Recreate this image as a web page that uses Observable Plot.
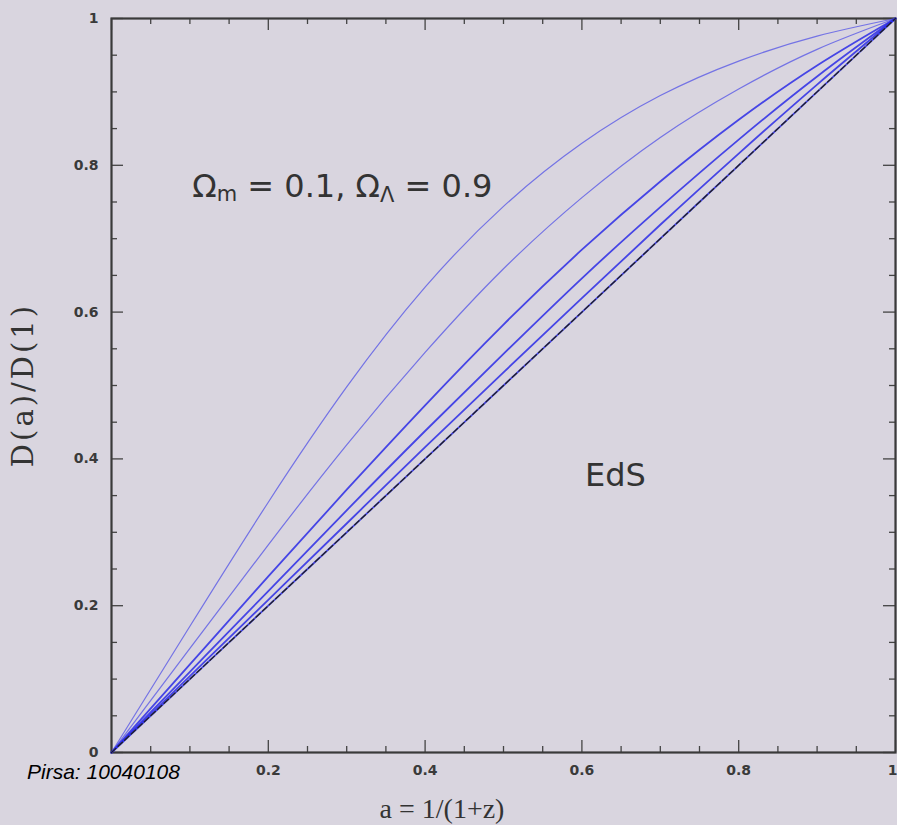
<!DOCTYPE html>
<html>
<head>
<meta charset="utf-8">
<script src="https://cdn.jsdelivr.net/npm/d3@7"></script>
<script src="https://cdn.jsdelivr.net/npm/@observablehq/plot@0.6"></script>
<style>
  html, body { margin: 0; padding: 0; background: #d9d5df; }
  #wrap { position: relative; width: 897px; height: 825px; overflow: hidden; }
  #pirsa { position: absolute; left: 27px; top: 761px; line-height: 1; font-family: "Liberation Sans", Arial, sans-serif; font-style: italic; font-size: 21px; color: #000; }
</style>
</head>
<body>
<div id="wrap"><div id="chart"></div><div id="pirsa">Pirsa: 10040108</div></div>
<script>
// scale factor a = 1/(1+z)
const aValues = [0, 0.1, 0.2, 0.3, 0.4, 0.5, 0.6, 0.7, 0.8, 0.9, 1.0];
// D(a)/D(1), one series per model (Omega_m, flat)
const om01 = [0, 0.172, 0.341, 0.498, 0.634, 0.744, 0.830, 0.895, 0.942, 0.976, 1];
const om02 = [0, 0.142, 0.283, 0.419, 0.545, 0.659, 0.756, 0.838, 0.904, 0.958, 1];
const om04 = [0, 0.120, 0.240, 0.358, 0.473, 0.583, 0.685, 0.778, 0.862, 0.936, 1];
const om06 = [0, 0.110, 0.220, 0.330, 0.438, 0.543, 0.646, 0.743, 0.835, 0.921, 1];
const om08 = [0, 0.104, 0.208, 0.312, 0.416, 0.518, 0.619, 0.719, 0.816, 0.910, 1];
const eds  = [0, 0.1, 0.2, 0.3, 0.4, 0.5, 0.6, 0.7, 0.8, 0.9, 1];

const seriesNames = ["0.1", "0.2", "0.4", "0.6", "0.8", "EdS"];
const seriesValues = [om01, om02, om04, om06, om08, eds];

const xTickLabels = [0.2, 0.4, 0.6, 0.8];
const xLastTick = [1];
const yTickLabels = [0, 0.2, 0.4, 0.6, 0.8, 1];
const majorTicks = [0, 0.2, 0.4, 0.6, 0.8, 1];
const minorTicks = d3.range(0, 21).map(i => i / 20).filter(v => Math.abs(v * 5 - Math.round(v * 5)) > 1e-6);

const annotations = [
  {a: 0.103, d: 0.757, text: "Ωm = 0.1, ΩΛ = 0.9"},
  {a: 0.604, d: 0.363, text: "EdS"}
];

const rows = [];
seriesNames.forEach((name, i) => {
  aValues.forEach((a, j) => rows.push({series: name, a, d: seriesValues[i][j]}));
});

const W = 897, H = 825, ML = 111, MR = 2, MT = 18, MB = 73;
const PW = W - ML - MR, PH = H - MT - MB;
const majorLen = 12, minorLen = 6;

const light = rows.filter(r => r.series === "0.1" || r.series === "0.2");
const strong = rows.filter(r => r.series !== "0.1" && r.series !== "0.2");
const edsRows = rows.filter(r => r.series === "EdS");

const tickFont = {fontSize: 14, fontWeight: "bold", fill: "#3a3a3a", fontFamily: "DejaVu Sans, sans-serif", tickFormat: d => String(d), label: null, tickSize: 0};

const plot = Plot.plot({
  width: W, height: H,
  marginLeft: ML, marginRight: MR, marginTop: MT, marginBottom: MB,
  style: {background: "#d9d5df", overflow: "visible"},
  x: {domain: [0, 1]},
  y: {domain: [0, 1]},
  marks: [
    // inward ticks: bottom, top, left, right
    Plot.ruleX(majorTicks, {x: d => d, insetTop: PH - majorLen, stroke: "#444", strokeWidth: 1.3}),
    Plot.ruleX(minorTicks, {x: d => d, insetTop: PH - minorLen, stroke: "#444", strokeWidth: 1.3}),
    Plot.ruleX(majorTicks, {x: d => d, insetBottom: PH - majorLen, stroke: "#444", strokeWidth: 1.3}),
    Plot.ruleX(minorTicks, {x: d => d, insetBottom: PH - minorLen, stroke: "#444", strokeWidth: 1.3}),
    Plot.ruleY(majorTicks, {y: d => d, insetRight: PW - majorLen, stroke: "#444", strokeWidth: 1.3}),
    Plot.ruleY(minorTicks, {y: d => d, insetRight: PW - minorLen, stroke: "#444", strokeWidth: 1.3}),
    Plot.ruleY(majorTicks, {y: d => d, insetLeft: PW - majorLen, stroke: "#444", strokeWidth: 1.3}),
    Plot.ruleY(minorTicks, {y: d => d, insetLeft: PW - minorLen, stroke: "#444", strokeWidth: 1.3}),
    Plot.frame({stroke: "#3a3a3a", strokeWidth: 2.2}),
    Plot.axisX(xTickLabels, {...tickFont, tickPadding: 13}),
    Plot.axisX(xLastTick, {...tickFont, tickPadding: 13, dx: -3}),
    Plot.axisY(yTickLabels, {...tickFont, tickPadding: 13}),
    Plot.line(light, {x: "a", y: "d", z: "series", stroke: "#5a5ae6", strokeOpacity: 0.8, strokeWidth: 1.2, curve: "natural"}),
    Plot.line(strong, {x: "a", y: "d", z: "series", stroke: "#2b2be6", strokeOpacity: 0.85, strokeWidth: 1.8, curve: "natural"}),
    Plot.line(edsRows, {x: "a", y: "d", stroke: "#222", strokeWidth: 1.3, strokeDasharray: "6,3", curve: "linear"}),
    Plot.text(annotations, {x: "a", y: "d", text: "text", textAnchor: "start", lineAnchor: "bottom",
      fontSize: 32, fill: "#333", fontFamily: "DejaVu Sans, sans-serif"})
  ]
});

// subscripts for the Omega label
d3.select(plot).selectAll("text").each(function() {
  if (this.textContent === "Ωm = 0.1, ΩΛ = 0.9") {
    const t = d3.select(this);
    t.text(null);
    const parts = [["Ω", false], ["m", true], [" = 0.1, Ω", false], ["Λ", true], [" = 0.9", false]];
    parts.forEach(([s, sub]) => {
      const ts = t.append("tspan").text(s);
      if (sub) ts.attr("font-size", 21).attr("dy", "0.22em");
      else if (s !== "Ω") ts.attr("dy", "-0.14em");
    });
  }
});

// axis titles
const svg = d3.select(plot);
svg.append("text").attr("x", 442).attr("y", 818).attr("text-anchor", "middle")
  .attr("font-family", "Liberation Serif, serif").attr("font-size", 28).attr("fill", "#333")
  .text("a = 1/(1+z)");
svg.append("text").attr("transform", "translate(33,385) rotate(-90)").attr("text-anchor", "middle")
  .attr("font-family", "DejaVu Serif, serif").attr("font-size", 29).attr("letter-spacing", 3).attr("fill", "#333")
  .text("D(a)/D(1)");

document.getElementById("chart").appendChild(plot);
</script>
</body>
</html>
